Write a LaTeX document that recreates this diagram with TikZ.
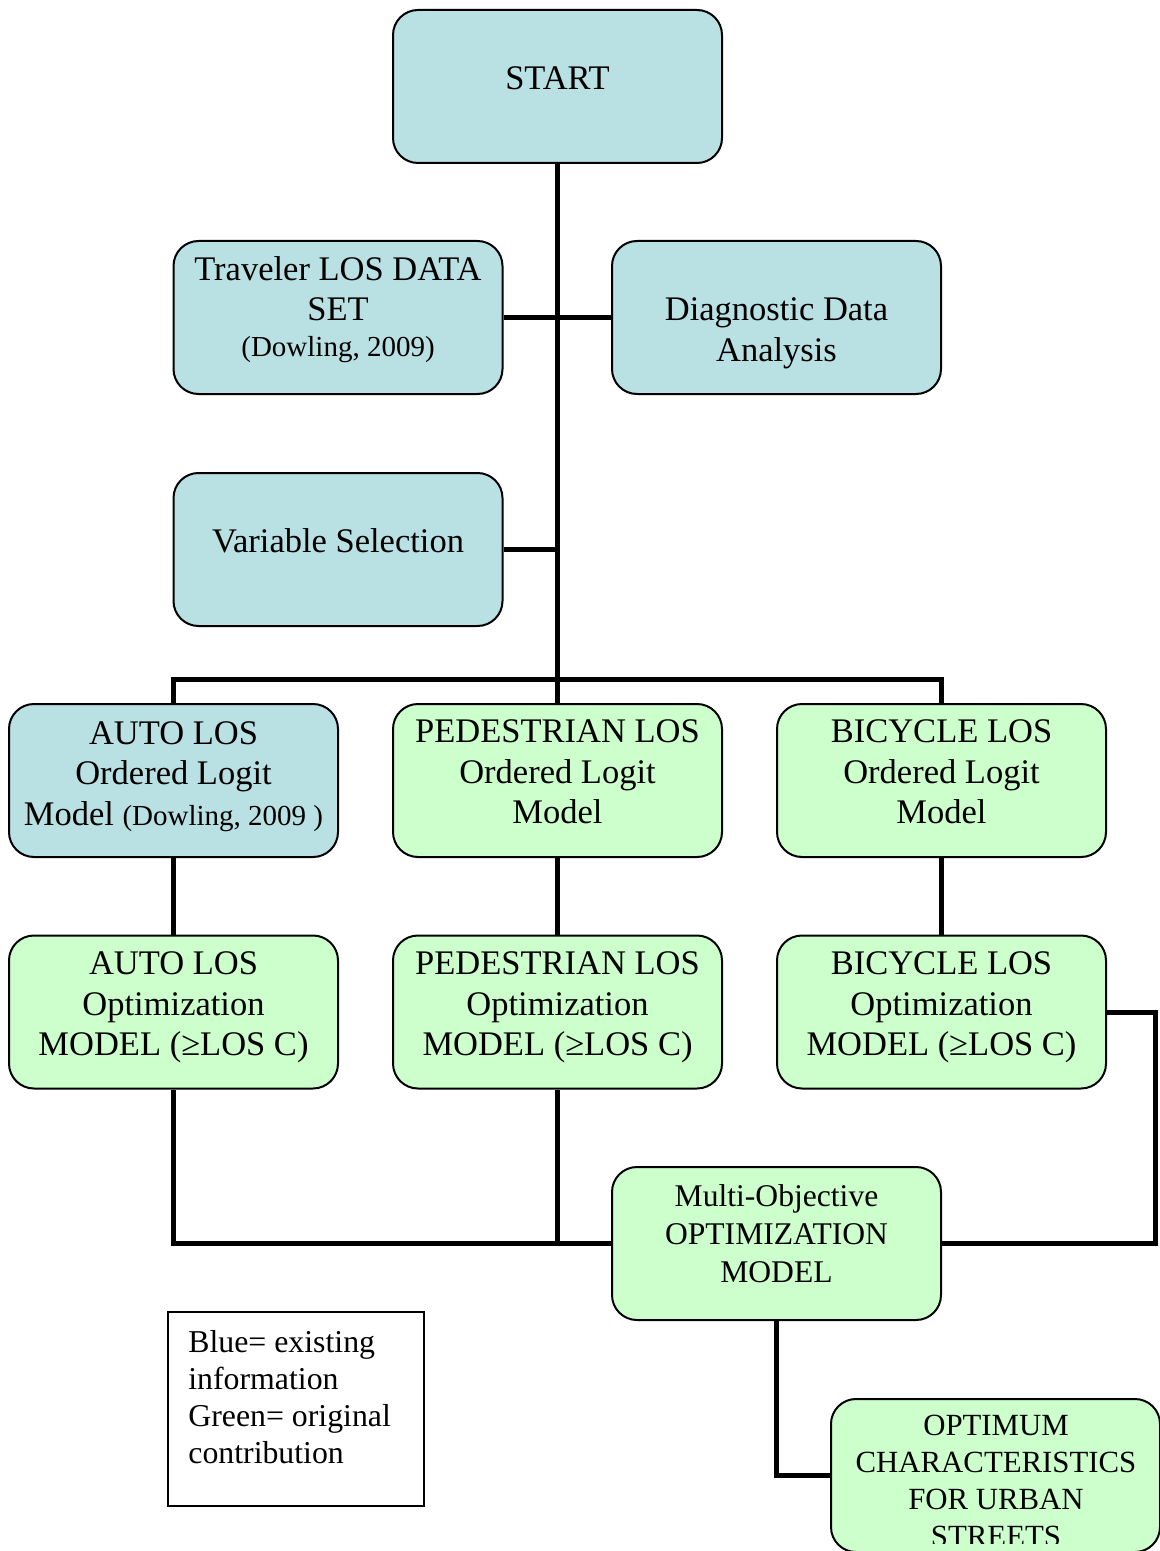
\documentclass[tikz,border=0pt]{standalone}
\usepackage{fontspec}
\setmainfont{Liberation Serif}
\definecolor{existblue}{RGB}{185,224,227}
\definecolor{newgreen}{RGB}{204,255,204}
\tikzset{
  box/.style={draw=black, line width=1pt, rounded corners=12.5pt,
    minimum width=164.5pt, minimum height=76.5pt, inner sep=0pt},
  bluebox/.style={box, fill=existblue},
  greenbox/.style={box, fill=newgreen},
  lbl/.style={align=center, inner sep=0pt, font=\fontsize{17.25}{20.3}\selectfont},
  smalllbl/.style={align=center, inner sep=0pt, font=\fontsize{15.8}{19}\selectfont},
  link/.style={line width=2.5pt},
}
\newcommand{\refnote}[1]{{\fontsize{14.5}{18.5}\selectfont #1}}
\begin{document}
\begin{tikzpicture}[x=0.5pt, y=-0.5pt]
  \useasboundingbox (0,0) rectangle (1160,1551);
  \clip (0,0) rectangle (1160,1551);

  % boxes
  \node[bluebox]  (start)   at (557.5,86.5)   {};
  \node[bluebox]  (trav)    at (338,317.5)    {};
  \node[bluebox]  (diag)    at (776.5,317.5)  {};
  \node[bluebox]  (vars)    at (338,549.5)    {};
  \node[bluebox]  (autolos) at (173.5,780.5)  {};
  \node[greenbox] (pedlos)  at (557.5,780.5)  {};
  \node[greenbox] (biclos)  at (941.5,780.5)  {};
  \node[greenbox] (autoopt) at (173.5,1012)   {};
  \node[greenbox] (pedopt)  at (557.5,1012)   {};
  \node[greenbox] (bicopt)  at (941.5,1012)   {};
  \node[greenbox] (multi)   at (776.5,1243.5) {};
  \node[greenbox] (optim)   at (995.5,1475.5) {};
  \node[draw=black, line width=0.8pt, minimum width=128pt, minimum height=97pt,
        inner sep=0pt] (legend) at (296,1409) {};

  % labels
  \node[lbl] (startT) at (557.5,78) {START};
  \node[lbl] (travT) at (338,309.5) {Traveler LOS DATA\\SET\\[-2.5pt]\refnote{(Dowling, 2009)}};
  \node[lbl] (diagT) at (776.5,333.5) {Diagnostic Data\\Analysis};
  \node[lbl] (varsT) at (338,541) {Variable Selection};
  \node[lbl] (autolosT) at (173.5,776.5) {AUTO LOS\\Ordered Logit\\Model \refnote{(Dowling, 2009 )}};
  \node[lbl] (pedlosT) at (557.5,772) {PEDESTRIAN LOS\\Ordered Logit\\Model};
  \node[lbl] (biclosT) at (941.5,772) {BICYCLE LOS\\Ordered Logit\\Model};
  \node[lbl] (autooptT) at (173.5,1007.5) {AUTO LOS\\Optimization\\MODEL (≥LOS C)};
  \node[lbl] (pedoptT) at (557.5,1007.5) {PEDESTRIAN LOS\\Optimization\\MODEL (≥LOS C)};
  \node[lbl] (bicoptT) at (941.5,1007.5) {BICYCLE LOS\\Optimization\\MODEL (≥LOS C)};
  \node[smalllbl] (multiT) at (776.5,1233.5) {Multi-Objective\\OPTIMIZATION\\MODEL};
  \begin{scope}
    % the text frame of the last box cuts its fourth line
    \clip (832,1390) rectangle (1160,1543);
    \node[smalllbl, font=\fontsize{15.4}{18.5}\selectfont] (optimT) at (996,1481)
         {OPTIMUM\\CHARACTERISTICS\\FOR URBAN\\STREETS};
  \end{scope}
  \node[align=left, anchor=west, inner sep=0pt, font=\fontsize{15.9}{18.5}\selectfont]
       (legendT) at (188,1397.5) {Blue= existing\\information\\Green= original\\contribution};

  % connectors
  \coordinate (split) at (557.5,679);
  \coordinate (rturn) at (1155,1012);
  \draw[link] (start.south) -- (split);
  \draw[link] (trav.east) -- (diag.west);
  \draw[link] (vars.east) -- (vars.east -| start.south);
  \draw[link] (autolos.north) |- (split) -| (biclos.north);
  \draw[link] (split) -- (pedlos.north);
  \draw[link] (autolos.south) -- (autoopt.north);
  \draw[link] (pedlos.south) -- (pedopt.north);
  \draw[link] (biclos.south) -- (bicopt.north);
  \draw[link] (autoopt.south) |- (multi.west);
  \draw[link] (pedopt.south) -- (pedopt.south |- multi.west);
  \draw[link] (bicopt.east) -- (rturn) |- (multi.east);
  \draw[link] (multi.south) |- (optim.west);
\end{tikzpicture}
\end{document}
